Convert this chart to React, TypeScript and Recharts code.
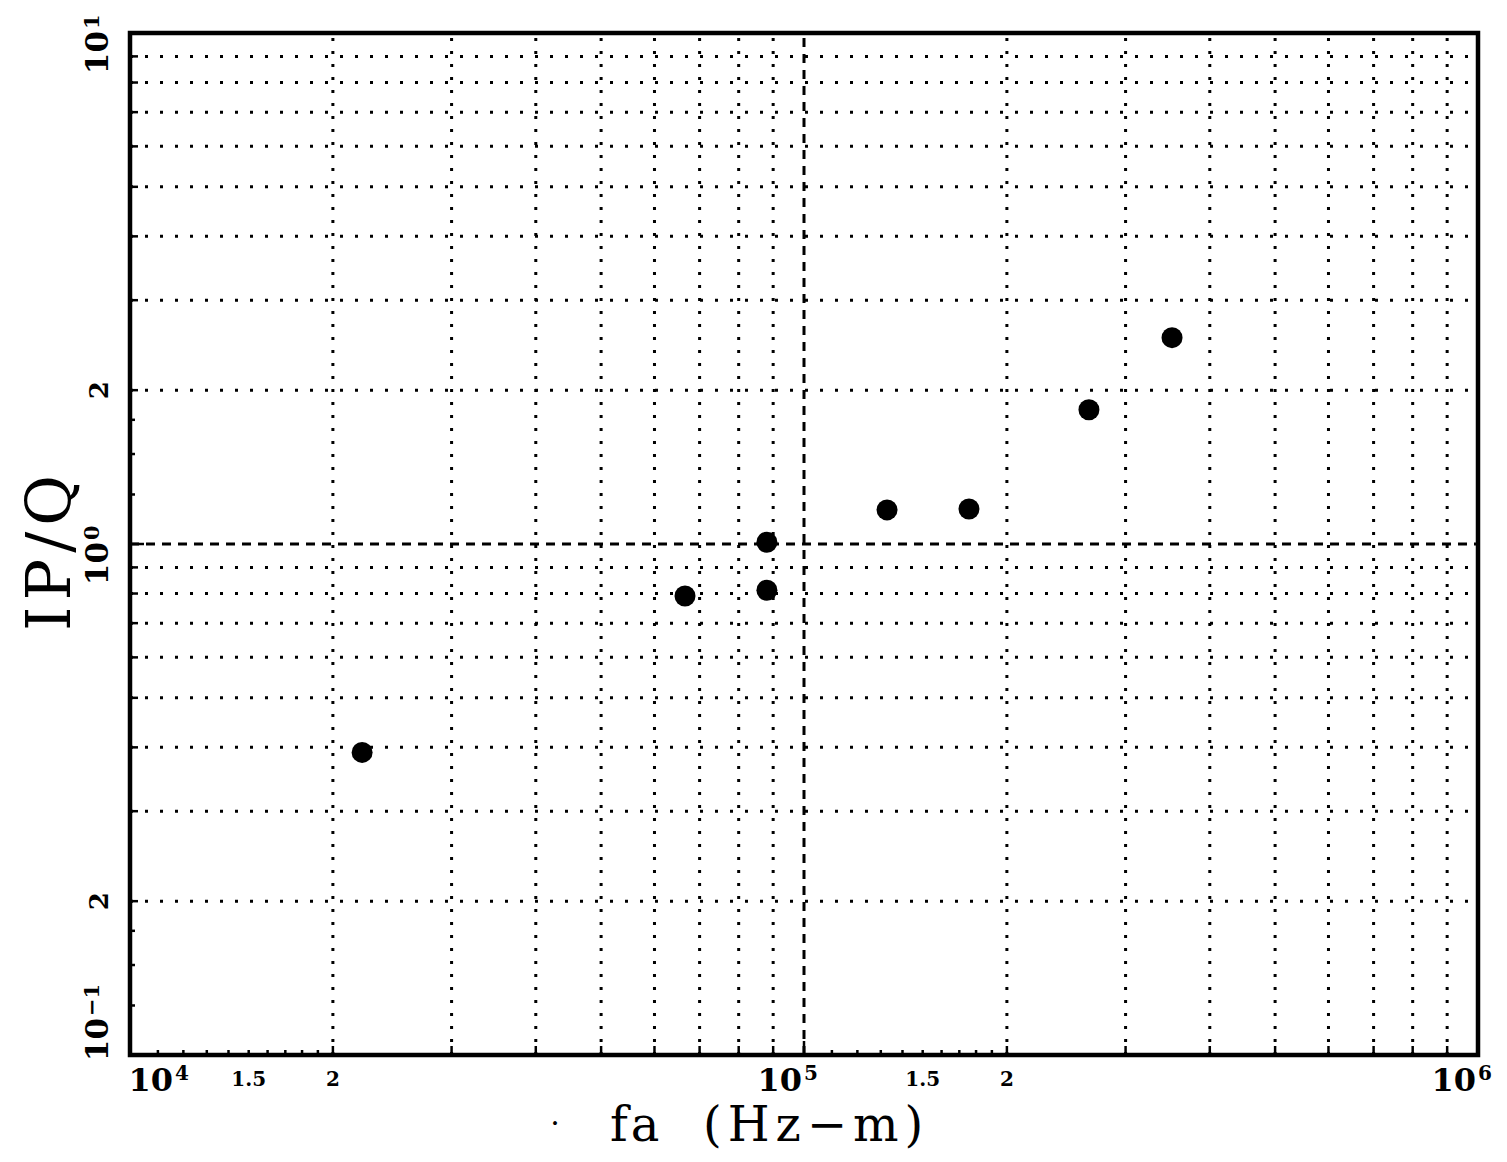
import React from 'react';
import { ScatterChart, Scatter, XAxis, YAxis, ReferenceLine, ReferenceArea } from 'recharts';

// ---- data ----
const faValues = [22100, 66600, 88100, 88100, 132800, 175700, 264700, 351600];
const ipqValues = [0.391, 0.791, 0.812, 1.008, 1.166, 1.171, 1.831, 2.534];

// ---- axes ----
const xDomain = [10000, 1000000];
const yDomain = [0.1, 10];

const xMajorTicks = [10000, 100000, 1000000];
const xGridValues = [20000, 30000, 40000, 50000, 60000, 70000, 80000, 90000,
  200000, 300000, 400000, 500000, 600000, 700000, 800000, 900000];
const xFineTicks = [11000, 12000, 13000, 14000, 15000, 16000, 17000, 18000, 19000,
  110000, 120000, 130000, 140000, 150000, 160000, 170000, 180000, 190000];

const yMajorTicks = [0.1, 1, 10];
const yGridValues = [0.2, 0.3, 0.4, 0.5, 0.6, 0.7, 0.8, 0.9, 2, 3, 4, 5, 6, 7, 8, 9];
const yFineTicks = [0.125, 0.15, 0.175, 1.25, 1.5, 1.75];

const xLabelValues = [10000, 15000, 20000, 100000, 150000, 200000, 1000000];
const xLabelMain = ['10', '1.5', '2', '10', '1.5', '2', '10'];
const xLabelSup = ['4', '', '', '5', '', '', '6'];

const yLabelValues = [0.1, 0.2, 1, 2, 10];
const yLabelMain = ['10', '2', '10', '2', '10'];
const yLabelSup = ['\u22121', '', '0', '', '1'];

const xAllTicks = [...xMajorTicks, ...xGridValues, ...xFineTicks].sort((a, b) => a - b);
const yAllTicks = [...yMajorTicks, ...yGridValues, ...yFineTicks].sort((a, b) => a - b);

const data = faValues.map((x, i) => ({ x, y: ipqValues[i] }));

const FONT = '"DejaVu Serif", serif';

const XTick = (props: any) => {
  const { x, y, payload } = props;
  const v = payload.value;
  let len = 14;
  if (xFineTicks.includes(v)) len = 5;
  else if (xGridValues.includes(v)) len = 9;
  const idx = xLabelValues.indexOf(v);
  let label: any = null;
  if (idx >= 0) {
    const sup = xLabelSup[idx];
    if (sup) {
      const endX = x + (v === xMajorTicks[0] ? 43 : -2);
      label = (
        <g>
          <text x={endX} y={y + 36} textAnchor="end" fontSize={32} fontWeight="bold" fontFamily={FONT} fill="#000">{xLabelMain[idx]}</text>
          <text x={endX + 2} y={y + 25} textAnchor="start" fontSize={20} fontWeight="bold" fontFamily={FONT} fill="#000">{sup}</text>
        </g>
      );
    } else {
      label = (
        <text x={x} y={y + 31} textAnchor="middle" fontSize={20} fontWeight="bold" fontFamily={FONT} fill="#000">{xLabelMain[idx]}</text>
      );
    }
  }
  return (
    <g>
      <line x1={x} y1={y} x2={x} y2={y - len} stroke="#000" strokeWidth={2.5} />
      {label}
    </g>
  );
};

const YTick = (props: any) => {
  const { x, y, payload } = props;
  const v = payload.value;
  let len = 14;
  if (yFineTicks.includes(v)) len = 5;
  else if (yGridValues.includes(v)) len = 8;
  const idx = yLabelValues.indexOf(v);
  let label: any = null;
  if (idx >= 0) {
    const sup = yLabelSup[idx];
    const bx = x - 22;
    if (sup) {
      const u = v === yMajorTicks[0] ? 37 : 2;
      label = (
        <g transform={`translate(${bx},${y}) rotate(-90)`}>
          <text x={u} y={0} textAnchor="end" fontSize={31} fontWeight="bold" fontFamily={FONT} fill="#000">{yLabelMain[idx]}</text>
          <text x={u + 2} y={-9} textAnchor="start" fontSize={21} fontWeight="bold" fontFamily={FONT} fill="#000">{sup}</text>
        </g>
      );
    } else {
      label = (
        <g transform={`translate(${bx},${y}) rotate(-90)`}>
          <text x={0} y={0} textAnchor="middle" fontSize={26} fontWeight="bold" fontFamily={FONT} fill="#000">{yLabelMain[idx]}</text>
        </g>
      );
    }
  }
  return (
    <g>
      <line x1={x} y1={y} x2={x + len} y2={y} stroke="#000" strokeWidth={2.5} />
      {label}
    </g>
  );
};

const XLabel = (props: any) => {
  const vb = props.viewBox || { x: 130, y: 1055, width: 1348, height: 50 };
  const base = vb.y + 86;
  return (
    <g>
      <text x={vb.x + 425} y={base - 8} fontSize={30} fontFamily={FONT} fill="#000" textAnchor="middle">·</text>
      <text x={vb.x + 480} y={base} fontSize={48} fontFamily={FONT} fill="#000" letterSpacing={3}>fa</text>
      <text x={vb.x + 573} y={base} fontSize={48} fontFamily={FONT} fill="#000" letterSpacing={6}>(Hz−m)</text>
    </g>
  );
};

const YLabel = (props: any) => {
  const vb = props.viewBox || { x: 70, y: 33, width: 60, height: 1022 };
  const cx = vb.x;
  const cy = 550;
  return (
    <g transform={`translate(${cx},${cy}) rotate(-90)`}>
      <text x={0} y={0} textAnchor="middle" fontSize={62} fontFamily={FONT} fill="#000" letterSpacing={6}>IP/Q</text>
    </g>
  );
};

const Dot = (props: any) => {
  const { cx, cy } = props;
  return <circle cx={cx} cy={cy} r={10.5} fill="#000" />;
};

export default function App() {
  return (
    <div style={{ position: 'absolute', left: 0, top: 0, width: 1507, height: 1162, background: '#fff' }}>
      <ScatterChart width={1507} height={1162} margin={{ top: 33, right: 29, bottom: 57, left: 70 }}>
        <XAxis
          dataKey="x"
          type="number"
          scale="log"
          domain={xDomain}
          allowDataOverflow
          ticks={xAllTicks}
          interval={0}
          tick={<XTick />}
          tickLine={false}
          axisLine={false}
          tickSize={0}
          tickMargin={0}
          height={50}
          label={<XLabel />}
        />
        <YAxis
          dataKey="y"
          type="number"
          scale="log"
          domain={yDomain}
          allowDataOverflow
          ticks={yAllTicks}
          interval={0}
          tick={<YTick />}
          tickLine={false}
          axisLine={false}
          tickSize={0}
          tickMargin={0}
          width={60}
          label={<YLabel />}
        />
        {xGridValues.map((v) => (
          <ReferenceLine key={'gx' + v} x={v} stroke="#000" strokeWidth={3} strokeDasharray="3 10" />
        ))}
        {yGridValues.map((v) => (
          <ReferenceLine key={'gy' + v} y={v} stroke="#000" strokeWidth={3} strokeDasharray="3 12" />
        ))}
        <ReferenceLine x={100000} stroke="#000" strokeWidth={3} strokeDasharray="9 7" />
        <ReferenceLine y={1} stroke="#000" strokeWidth={3} strokeDasharray="9 7" />
        <ReferenceArea x1={xDomain[0]} x2={xDomain[1]} y1={yDomain[0]} y2={yDomain[1]} fill="none" fillOpacity={0} stroke="#000" strokeWidth={4.5} />
        <Scatter data={data} fill="#000" shape={<Dot />} isAnimationActive={false} />
      </ScatterChart>
    </div>
  );
}
